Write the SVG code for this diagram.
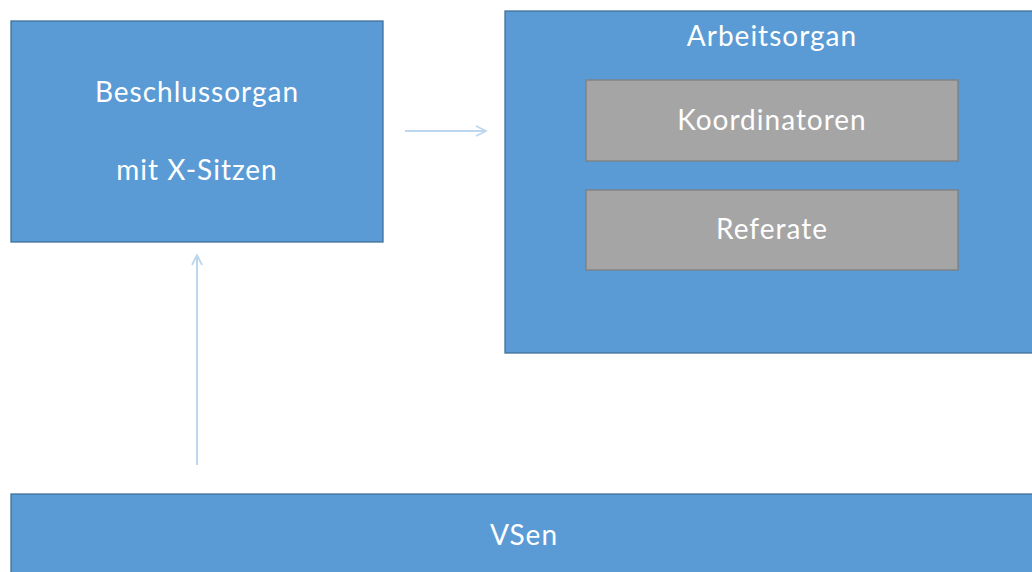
<svg xmlns="http://www.w3.org/2000/svg" width="1032" height="572" viewBox="0 0 1032 572">
<defs>
<style>
.blue{fill:#5B9BD5;stroke:#41719C;stroke-width:1.3}
.grey{fill:#A5A5A5;stroke:#7F7F7F;stroke-width:1.3}
.t{font-family:Lato,"Open Sans","Liberation Sans",sans-serif;font-size:28px;letter-spacing:1px;fill:#FFFFFF;text-anchor:middle}
.con{stroke:#BDD7EE;stroke-width:2;fill:none}
</style>
<marker id="arr" viewBox="0 0 12 12" refX="11" refY="6" markerWidth="12" markerHeight="12" markerUnits="userSpaceOnUse" orient="auto">
<path d="M1,1 L11,6 L1,11" fill="none" stroke="#BDD7EE" stroke-width="1.8"/>
</marker>
</defs>
<rect width="1032" height="572" fill="#FFFFFF"/>
<g id="beschlussorgan">
<rect class="blue" x="11" y="21" width="372" height="221"/>
<text class="t" x="197" y="102">Beschlussorgan</text>
<text class="t" x="197" y="180">mit X-Sitzen</text>
</g>
<g id="arbeitsorgan">
<rect class="blue" x="505" y="11" width="540" height="342"/>
<text class="t" x="772" y="46">Arbeitsorgan</text>
</g>
<g id="koordinatoren">
<rect class="grey" x="586" y="80" width="372" height="81"/>
<text class="t" x="772" y="130">Koordinatoren</text>
</g>
<g id="referate">
<rect class="grey" x="586" y="190" width="372" height="80"/>
<text class="t" x="772" y="239">Referate</text>
</g>
<g id="vsen">
<rect class="blue" x="11" y="494" width="1040" height="100"/>
<text class="t" x="524" y="545">VSen</text>
</g>
<g id="connectors">
<line class="con" x1="405" y1="131" x2="486" y2="131" marker-end="url(#arr)"/>
<line class="con" x1="197" y1="465" x2="197" y2="255" marker-end="url(#arr)"/>
</g>
</svg>
